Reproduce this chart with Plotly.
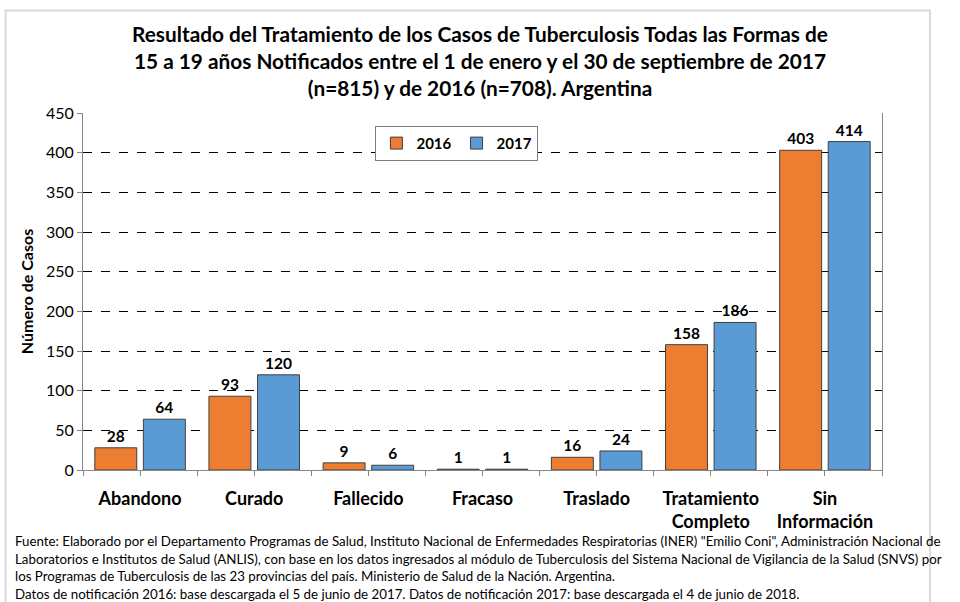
import plotly.graph_objects as go

categories = ["Abandono", "Curado", "Fallecido", "Fracaso", "Traslado",
              "Tratamiento<br>Completo", "Sin<br>Información"]
values_2016 = [28, 93, 9, 1, 16, 158, 403]
values_2017 = [64, 120, 6, 1, 24, 186, 414]
y_ticks = [0, 50, 100, 150, 200, 250, 300, 350, 400, 450]

FONT = "Lato"
L, R, T, B = 82.5, 882, 113, 470
W, H = 960, 602

fig = go.Figure()
for name, vals, color in [("2016", values_2016, "#ED7D31"), ("2017", values_2017, "#5B9BD5")]:
    fig.add_trace(go.Bar(
        x=categories, y=vals, name="<b>" + name + "</b>",
        marker=dict(color=color, line=dict(color="#404040", width=1)),
        text=vals, texttemplate="<b>%{y}</b>", textposition="outside", cliponaxis=False,
        textfont=dict(family=FONT, size=15.5, color="#000000"),
    ))
# invisible helper so the tick-mark axis is drawn
fig.add_trace(go.Scatter(
    x=list(range(len(categories))), y=values_2016, xaxis="x2", yaxis="y",
    mode="markers", marker=dict(opacity=0), showlegend=False, hoverinfo="skip",
))

fig.update_layout(
    width=W, height=H,
    margin=dict(l=L, r=W - R, t=T, b=H - B, autoexpand=False),
    paper_bgcolor="white", plot_bgcolor="white",
    barmode="group", bargap=0.149, bargroupgap=0.136,
    font=dict(family=FONT, color="#000000"),
    title=dict(
        text="<b>Resultado del Tratamiento de los Casos de Tuberculosis Todas las Formas de<br>"
             "15 a 19 años Notificados entre el 1 de enero y el 30 de septiembre de 2017<br>"
             "(n=815) y de 2016 (n=708). Argentina</b>",
        x=0.5, xanchor="center", y=0.93, yanchor="top",
        font=dict(family=FONT, size=20.8, color="#000000"),
    ),
    legend=dict(
        orientation="h", x=0.468, xanchor="center", y=0.964, yanchor="top",
        bordercolor="#7F7F7F", borderwidth=1, bgcolor="white",
        font=dict(family=FONT, size=15, color="#000000"),
        traceorder="normal", itemwidth=30,
    ),
    showlegend=True,
    xaxis2=dict(
        overlaying="x", anchor="y", side="bottom", type="linear",
        range=[-0.5, len(categories) - 0.5],
        tickvals=[i / 2 - 0.5 for i in range(2 * len(categories) + 1)],
        showticklabels=False, ticks="outside", ticklen=5, tickcolor="#868686",
        showgrid=False, zeroline=False, showline=False, automargin=False,
        fixedrange=True,
    ),
)
fig.update_yaxes(
    range=[0, 450], tickvals=y_ticks, showgrid=True, automargin=False,
    gridcolor="#000000", griddash="dash", gridwidth=1,
    showline=True, linecolor="#868686", linewidth=1, mirror=True,
    ticks="outside", ticklen=5, tickcolor="#868686",
    tickfont=dict(family=FONT, size=16, color="#000000"),
    tickprefix="<b>", ticksuffix="</b>",
    title=dict(text="<b>Número de Casos</b>", font=dict(family=FONT, size=16), standoff=8),
    zeroline=False,
)
fig.layout.xaxis.update(
    showline=True, linecolor="#868686", linewidth=1, automargin=False,
    ticks="", tickfont=dict(family=FONT, size=18, color="#000000"),
    tickprefix="<b>", ticksuffix="</b>", ticklabelstandoff=12,
)

# outer frame
pw, ph = R - L, B - T
def px(x): return (x - L) / pw
def py(y): return (B - y) / ph
fig.add_shape(type="rect", xref="paper", yref="paper",
              x0=px(5), x1=px(930), y0=py(610), y1=py(10.5),
              line=dict(color="#D9D9D9", width=2), fillcolor="rgba(0,0,0,0)", layer="below")

foot_lines = [
    "Fuente: Elaborado por el Departamento Programas de Salud, Instituto Nacional de Enfermedades Respiratorias (INER) \"Emilio Coni\", Administración Nacional de",
    "Laboratorios e Institutos de Salud (ANLIS), con base en los datos ingresados al módulo de Tuberculosis del Sistema Nacional de Vigilancia de la Salud (SNVS) por",
    "los Programas de Tuberculosis de las 23 provincias del país. Ministerio de Salud de la Nación. Argentina.",
    "Datos de notificación 2016: base descargada el 5 de junio de 2017. Datos de notificación 2017: base descargada el 4 de junio de 2018.",
]
for i, line in enumerate(foot_lines):
    fig.add_annotation(text=line, xref="paper", yref="paper", x=px(12), y=py(541 + 17.5 * i),
                       xanchor="left", yanchor="middle", align="left", showarrow=False,
                       font=dict(family=FONT, size=13.3, color="#000000"))

fig.write_html("out.html", config={"displayModeBar": False},
               post_script="document.body.style.margin='0';")
